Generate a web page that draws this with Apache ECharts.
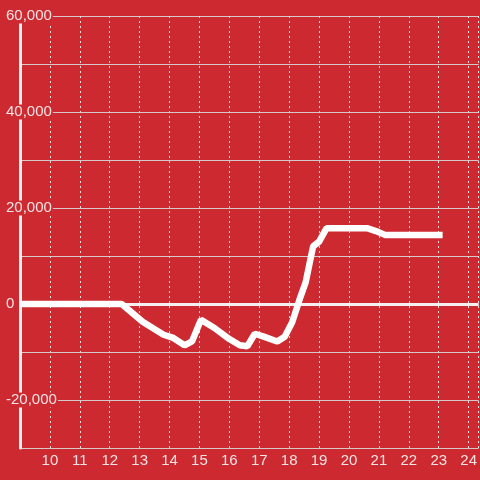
<!DOCTYPE html>
<html>
<head>
<meta charset="utf-8">
<script src="https://cdn.jsdelivr.net/npm/echarts@6/dist/echarts.min.js"></script>
<style>html,body{margin:0;padding:0;background:#cc2a30;}#c{width:480px;height:480px;}</style>
</head>
<body>
<div id="c"></div>
<script>
var hours = [9, 12.4, 13.1, 13.8, 14.1, 14.5, 14.75, 15.05, 15.5, 16.0, 16.35, 16.6, 16.85, 17.15, 17.6, 17.85, 18.1, 18.35, 18.55, 18.8, 19.0, 19.25, 20.6, 20.9, 21.2, 23.13];
var values = [0, 0, -3700, -6400, -7000, -8600, -7800, -3300, -5000, -7300, -8600, -8800, -6200, -6800, -7800, -6800, -3800, 1000, 4500, 12000, 13000, 15800, 15800, 15200, 14400, 14400];
var yTicks = [-20000, 0, 20000, 40000, 60000];

var data = hours.map(function (h, i) { return [h, values[i]]; });
var chart = echarts.init(document.getElementById('c'));
chart.setOption({
  backgroundColor: '#cc2a30',
  animation: false,
  grid: { left: 20, right: 0, top: 16, bottom: 32, containLabel: false },
  xAxis: {
    type: 'value', min: 9, max: 24.333, interval: 1,
    axisLine: { onZero: false, show: false },
    axisTick: { show: false },
    axisLabel: {
      color: '#f2e4e4', fontSize: 15, fontFamily: 'Liberation Sans, Arial, sans-serif',
      showMinLabel: false, showMaxLabel: false, margin: 5,
      formatter: function (v) { return (Math.abs(v - Math.round(v)) < 1e-6 && v > 9) ? String(Math.round(v)) : ''; }
    },
    splitLine: { show: true, lineStyle: { color: '#e6dede', type: [2, 3], width: 1 } }
  },
  yAxis: {
    type: 'value', min: -30000, max: 60000, interval: 10000,
    axisLine: { show: true, lineStyle: { color: '#f4f0f0', width: 3 } },
    axisTick: { show: false },
    axisLabel: {
      color: '#f2e4e4', fontSize: 15, fontFamily: 'Liberation Sans, Arial, sans-serif',
      align: 'left', margin: 14,
      backgroundColor: '#cc2a30', padding: [0, 1, 0, 0],
      formatter: function (v) { return yTicks.indexOf(v) >= 0 ? v.toLocaleString('en-US') : ''; }
    },
    splitLine: { show: true, lineStyle: { color: '#d6c8c8', width: 1 } }
  },
  series: [{
    type: 'line', data: data, showSymbol: false, symbol: 'none',
    lineStyle: { color: '#ffffff', width: 6.5 },
    z: 3,
    markLine: {
      silent: true, symbol: 'none', label: { show: false },
      lineStyle: { color: '#f4f0f0', width: 3, type: 'solid' },
      data: [{ yAxis: 0 }],
      z: 2
    }
  }]
});
</script>
</body>
</html>
